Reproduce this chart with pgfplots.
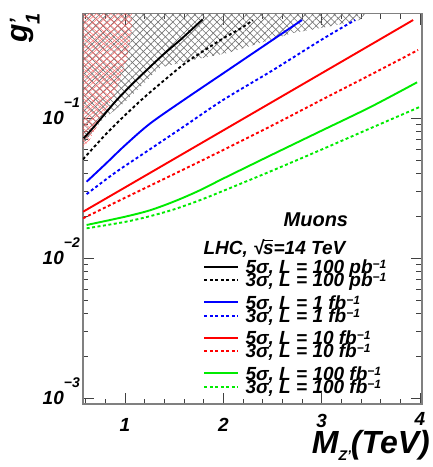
\documentclass[border=0pt]{standalone}
\usepackage{fontspec}
\setmainfont{Liberation Sans}
\usepackage{pgfplots}
\pgfplotsset{compat=1.18}
\usetikzlibrary{patterns.meta}
\definecolor{rgreen}{RGB}{0,235,0}
\newcommand\bi{\bfseries\itshape}
\newcommand\fs[1]{\fontsize{#1}{#1}\selectfont}
\newcommand\lent[1]{\smash{#1}\rule[0.1pt]{0pt}{13.3pt}}
\newcommand\supx[1]{\raisebox{5pt}{\fs{12}#1}}
\begin{document}
\begin{tikzpicture}
\path[use as bounding box] (-83pt,-63pt) rectangle (350pt,404pt);
\begin{axis}[
 at={(0pt,0pt)}, anchor=south west,
 scale only axis, width=339pt, height=390.3pt,
 ymode=log, xmin=0.573, xmax=4.02, ymin=9.06e-4, ymax=0.556,
 xtick={1,2,3,4}, xticklabels={1,2,\raisebox{4pt}[\height][\depth]{3},\raisebox{6pt}[\height][\depth]{4}},
 minor xtick={0.6,0.8,1.2,1.4,1.6,1.8,2.2,2.4,2.6,2.8,3.2,3.4,3.6,3.8},
 ytick={0.001,0.01,0.1},
 yticklabels={10\raisebox{17pt}[0pt][0pt]{\fs{14}−3},10\raisebox{17pt}[0pt][0pt]{\fs{14}−2},10\raisebox{17pt}[0pt][0pt]{\fs{14}−1}},
 xtick pos=both, ytick pos=both, xticklabel pos=lower, yticklabel pos=left,
 tick align=inside,
 major tick length=11pt, minor tick length=5.5pt,
 tick style={black!75, line width=0.6pt},
 axis line style={black!50, line width=1.3pt},
 xticklabel style={font=\bi\fs{19}, inner sep=0pt, anchor=north, yshift=-14.3pt},
 yticklabel style={font=\bi\fs{19}, inner sep=0pt, anchor=east, xshift=-3pt},
 xlabel={\bi\fs{32}M\raisebox{-6.7pt}{\fs{14}Z'}(TeV)},
 xlabel style={at={(axis description cs:1.0236,-0.1263)}, anchor=base east, inner sep=0pt},
 ylabel={\bi\fs{30}g\rlap{\raisebox{4pt}{\fs{20}'}}\raisebox{-12pt}{\fs{20}1}},
 ylabel style={at={(axis description cs:-0.1634,1.0018)}, anchor=base east, inner sep=0pt},
 legend style={at={(axis description cs:0.3549,0.3687)}, anchor=north west, draw=none, fill=none,
   inner sep=0pt, outer sep=0pt, row sep=0pt, column sep=6pt,
   nodes={inner sep=0pt, text depth=0pt, font=\bi\fs{19}}, cells={anchor=west}},
 legend image code/.code={\draw[#1] (0pt,0pt) -- (34pt,0pt);},
]
% hatched excluded regions
\addplot[forget plot, draw=none,
  pattern={Lines[angle=45,distance=5.2pt,line width=0.65pt]}, pattern color=black!55,
  postaction={pattern={Lines[angle=-45,distance=5.2pt,line width=0.65pt]}, pattern color=black!55}]
 coordinates {(0.573,0.065) (0.573,0.556) (3.44,0.556) (3.39,0.50) (3.05,0.447) (2.71,0.405) (2.37,0.343) (2.04,0.291) (1.69,0.26) (1.36,0.23) (1.17,0.17) (1.0,0.13) (0.77,0.097)} -- cycle;
\addplot[forget plot, draw=none,
  pattern={Lines[angle=40,distance=4.6pt,line width=0.45pt]}, pattern color=red!60,
  postaction={pattern={Lines[angle=-40,distance=4.6pt,line width=0.45pt]}, pattern color=red!60}]
 coordinates {(0.573,0.062) (0.573,0.556) (1.07,0.556) (1.07,0.43) (1.02,0.26) (0.90,0.151) (0.75,0.097) (0.645,0.07)} -- cycle;
% black
\addplot[forget plot, black, line width=1.9pt, smooth] coordinates {(0.58,0.0716) (0.7,0.0891) (0.9,0.1306) (1.07,0.1738) (1.24,0.2265) (1.4,0.2884) (1.58,0.3707) (1.79,0.507)};
\addplot[forget plot, black, line width=1.9pt, dash pattern=on 3pt off 2.5pt, smooth] coordinates {(0.573,0.0507) (0.8,0.0759) (1.0,0.1047) (1.2,0.1413) (1.4,0.1862) (1.6,0.2427) (1.8,0.3020) (2.0,0.3715) (2.2,0.4467) (2.3,0.5012)};
% blue
\addplot[forget plot, blue, line width=1.9pt, smooth] coordinates {(0.61,0.0351) (0.8,0.0468) (1.0,0.0638) (1.254,0.0912) (1.6,0.1349) (2.0,0.2089) (2.4,0.3236) (2.8,0.5012)};
\addplot[forget plot, blue, line width=1.9pt, dash pattern=on 3pt off 2.5pt, smooth] coordinates {(0.61,0.0286) (0.9,0.0407) (1.24,0.0589) (1.6,0.0871) (2.0,0.1349) (2.5,0.2188) (3.0,0.3631) (3.34,0.501)};
% red
\addplot[forget plot, red, line width=1.9pt, smooth] coordinates {(0.575,0.02143) (1.0,0.03192) (1.5,0.05105) (2.0,0.08166) (2.5,0.1306) (3.0,0.2089) (3.5,0.3342) (3.93,0.5012)};
\addplot[forget plot, red, line width=1.9pt, dash pattern=on 3pt off 2.5pt, smooth] coordinates {(0.575,0.01923) (1.0,0.02692) (1.5,0.03981) (2.0,0.05916) (2.5,0.08872) (3.0,0.1349) (3.5,0.2042) (3.98,0.306)};
% green
\addplot[forget plot, rgreen, line width=1.9pt, smooth] coordinates {(0.61,0.01722) (1.0,0.01972) (1.25,0.02188) (1.5,0.02535) (1.75,0.0302) (2.0,0.03698) (2.5,0.05495) (3.0,0.08128) (3.5,0.1202) (3.97,0.1799)};
\addplot[forget plot, rgreen, line width=1.9pt, dash pattern=on 3pt off 2.5pt, smooth] coordinates {(0.61,0.01629) (1.0,0.01811) (1.25,0.01986) (1.5,0.02228) (1.75,0.0257) (2.0,0.0302) (2.5,0.04217) (3.0,0.05957) (3.5,0.08472) (4.0,0.1202)};
% legend
\addlegendimage{black, line width=2.2pt}
\addlegendentry{\lent{5σ, L = 100 pb\supx{−1}}}
\addlegendimage{black, line width=2.2pt, dash pattern=on 3pt off 2.5pt}
\addlegendentry{\lent{3σ, L = 100 pb\supx{−1}}}
\addlegendimage{empty legend}
\addlegendentry{\rule{0pt}{8.7pt}}
\addlegendimage{blue, line width=2.2pt}
\addlegendentry{\lent{5σ, L = 1 fb\supx{−1}}}
\addlegendimage{blue, line width=2.2pt, dash pattern=on 3pt off 2.5pt}
\addlegendentry{\lent{3σ, L = 1 fb\supx{−1}}}
\addlegendimage{empty legend}
\addlegendentry{\rule{0pt}{8.7pt}}
\addlegendimage{red, line width=2.2pt}
\addlegendentry{\lent{5σ, L = 10 fb\supx{−1}}}
\addlegendimage{red, line width=2.2pt, dash pattern=on 3pt off 2.5pt}
\addlegendentry{\lent{3σ, L = 10 fb\supx{−1}}}
\addlegendimage{empty legend}
\addlegendentry{\rule{0pt}{8.7pt}}
\addlegendimage{rgreen, line width=2.2pt}
\addlegendentry{\lent{5σ, L = 100 fb\supx{−1}}}
\addlegendimage{rgreen, line width=2.2pt, dash pattern=on 3pt off 2.5pt}
\addlegendentry{\lent{3σ, L = 100 fb\supx{−1}}}
\node[anchor=base, font=\bi\fs{20}, inner sep=0pt] at (axis description cs:0.687,0.4543) {Muons};
\node[anchor=base west, font=\bi\fs{19}, inner sep=0pt] at (axis description cs:0.3549,0.3818) {LHC, \mbox{√\kern-0.5pt\rlap{\rule[14pt]{9.5pt}{1.1pt}}s}=14 TeV};
\end{axis}
\end{tikzpicture}
\end{document}
